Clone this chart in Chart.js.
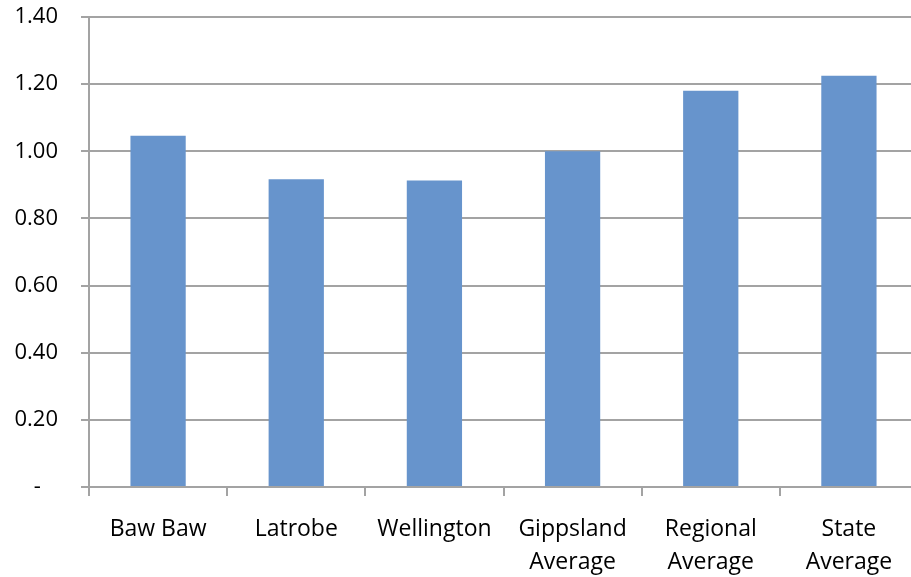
<!DOCTYPE html>
<html>
<head>
<meta charset="utf-8">
<script src="https://cdn.jsdelivr.net/npm/chart.js@4/dist/chart.umd.min.js"></script>
<style>
  html, body { margin: 0; padding: 0; background: #fff; overflow: hidden; }
  #wrap { width: 918px; height: 577px; position: relative; }
</style>
</head>
<body>
<div id="wrap"><canvas id="chart"></canvas></div>
<script>
// Chart data.
const categories = [
  'Baw Baw',
  'Latrobe',
  'Wellington',
  ['Gippsland', 'Average'],
  ['Regional', 'Average'],
  ['State', 'Average']
];
const values = [1.046, 0.917, 0.913, 1.0, 1.18, 1.225];
const yTicks = [0, 0.2, 0.4, 0.6, 0.8, 1.0, 1.2, 1.4];

const GRID = '#a3a3a3';
const FONT_FAMILY = "'Open Sans', sans-serif";

new Chart(document.getElementById('chart'), {
  type: 'bar',
  data: {
    labels: categories,
    datasets: [
      {
        data: values,
        backgroundColor: '#6794cc',
        borderWidth: 0,
        barPercentage: 0.4,
        categoryPercentage: 1
      }
    ]
  },
  options: {
    responsive: true,
    maintainAspectRatio: false,
    animation: false,
    layout: { padding: { top: 17, right: 0, left: 0, bottom: 0 } },
    plugins: {
      legend: { display: false },
      tooltip: { enabled: false }
    },
    scales: {
      x: {
        grid: {
          drawOnChartArea: false,
          drawTicks: true,
          tickLength: 9,
          color: GRID,
          lineWidth: 2,
          offset: true
        },
        border: { color: GRID, width: 2 },
        ticks: {
          color: '#000',
          font: { family: FONT_FAMILY, size: 23, lineHeight: 1.42 },
          padding: 17,
          maxRotation: 0,
          autoSkip: false
        },
        afterFit: (scale) => {
          scale.height = 90;
          scale.paddingLeft = 0;
          scale.paddingRight = 0;
        }
      },
      y: {
        min: 0,
        max: 1.4,
        afterBuildTicks: (scale) => {
          scale.ticks = yTicks.map((v) => ({ value: v }));
        },
        grid: { color: GRID, lineWidth: 2, tickLength: 8 },
        border: { color: GRID, width: 2 },
        ticks: {
          color: '#000',
          font: { family: FONT_FAMILY, size: 22 },
          padding: 23,
          callback: (v) => (v === 0 ? '-   ' : v.toFixed(2))
        },
        afterFit: (scale) => {
          scale.width = 89;
          scale.paddingTop = 0;
          scale.paddingBottom = 0;
        }
      }
    }
  }
});
</script>
</body>
</html>
